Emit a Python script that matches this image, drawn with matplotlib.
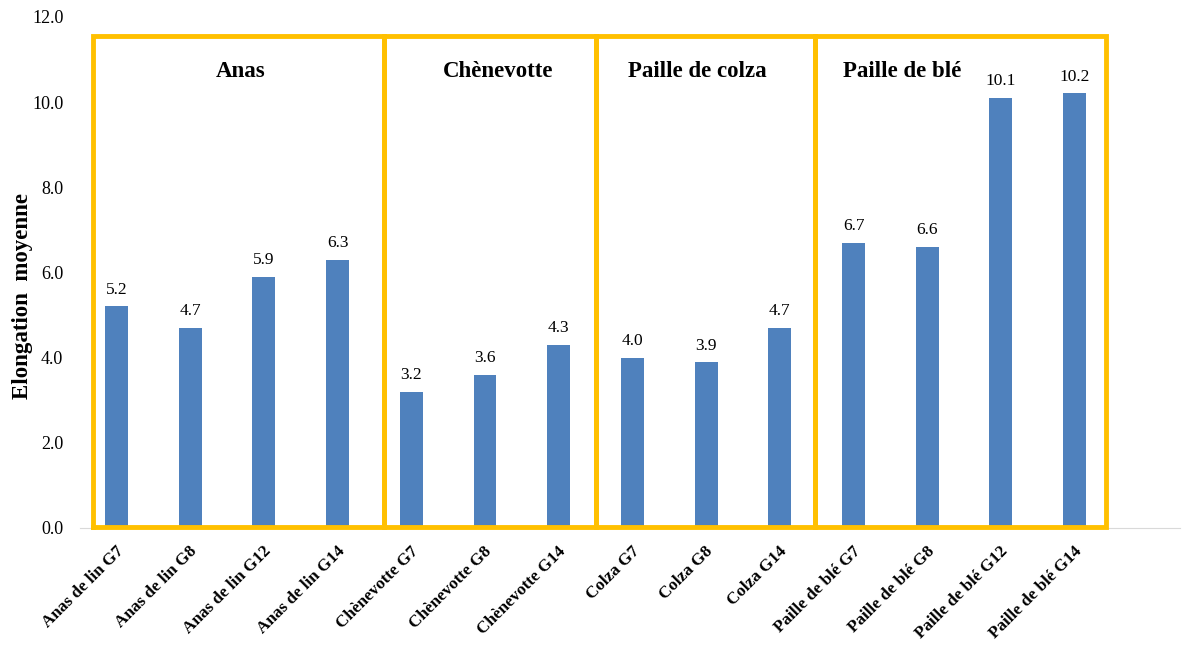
import matplotlib.pyplot as plt
from matplotlib.ticker import FormatStrFormatter
from matplotlib.transforms import ScaledTranslation

categories = ["Anas de lin G7", "Anas de lin G8", "Anas de lin G12", "Anas de lin G14",
              "Chènevotte G7", "Chènevotte G8", "Chènevotte G14",
              "Colza G7", "Colza G8", "Colza G14",
              "Paille de blé G7", "Paille de blé G8", "Paille de blé G12", "Paille de blé G14"]
values = [5.2, 4.7, 5.9, 6.3, 3.2, 3.6, 4.3, 4.0, 3.9, 4.7, 6.7, 6.6, 10.1, 10.2]

groups = ["Anas", "Chènevotte", "Paille de colza", "Paille de blé"]
group_edges = [-0.32, 3.63, 6.5, 9.48, 13.43]
group_x = [1.69, 5.18, 7.88, 10.66]

plt.rcParams['font.family'] = ['Liberation Serif', 'DejaVu Serif']

fig = plt.figure(figsize=(11.88, 6.47), dpi=100)
ax = fig.add_axes([80 / 1188, 0.184, 1100 / 1188, 0.79])

x = list(range(len(categories)))
ax.bar(x, values, width=0.31, color='#4F81BD', zorder=2)

for xi, v in zip(x, values):
    ax.annotate(f"{v:.1f}", (xi, v), xytext=(0, 6), textcoords='offset points',
                ha='center', va='bottom', fontsize=12.5)

ax.set_ylim(0, 12)
ax.set_xlim(-0.495, 14.43)
ax.set_yticks([0, 2, 4, 6, 8, 10, 12])
ax.yaxis.set_major_formatter(FormatStrFormatter('%.1f'))
ax.tick_params(axis='y', length=0, labelsize=13, pad=12)
ax.tick_params(axis='x', length=0, pad=11)
ax.set_xticks(x)
ax.set_xticklabels(categories, rotation=45, ha='right', rotation_mode='anchor',
                   fontsize=12.3, fontweight='bold')
shift = ScaledTranslation(-1 / 100, 0, fig.dpi_scale_trans)
for lbl in ax.get_xticklabels():
    lbl.set_transform(lbl.get_transform() + shift)

for s in ['top', 'right', 'left']:
    ax.spines[s].set_visible(False)
ax.spines['bottom'].set_color('#D9D9D9')

ax.set_ylabel("Elongation  moyenne", fontsize=16.5, fontweight='bold')
ax.yaxis.set_label_coords(-0.0427, 0.454)

# yellow group boxes
yellow = '#FFC000'
box_top = 11.56
for i, g in enumerate(groups):
    left, right = group_edges[i], group_edges[i + 1]
    ax.plot([left, right, right, left, left], [0.02, 0.02, box_top, box_top, 0.02],
            color=yellow, lw=3.5, solid_joinstyle='miter', zorder=3, clip_on=False)

for gx, g in zip(group_x, groups):
    ax.text(gx, 10.72, g, ha='center', va='center', fontsize=16.5, fontweight='bold')

fig.savefig("out.png", dpi=100)
